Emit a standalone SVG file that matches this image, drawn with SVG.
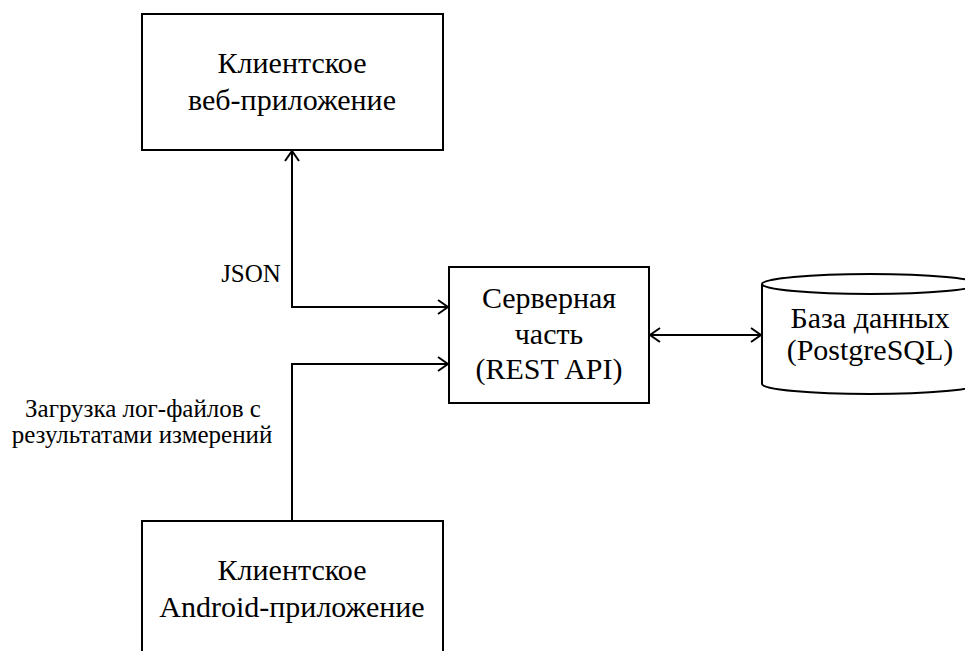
<svg xmlns="http://www.w3.org/2000/svg" width="965" height="651" viewBox="0 0 965 651">
<defs>
<style>
.box{fill:#fff;stroke:#000;stroke-width:2}
.t{font-family:'Liberation Serif',Tinos,'Times New Roman',Times,'DejaVu Serif',serif;font-size:30px;fill:#000;text-anchor:middle}
.l{font-family:'Liberation Serif',Tinos,'Times New Roman',Times,'DejaVu Serif',serif;font-size:25px;fill:#000;text-anchor:middle}
.c{fill:none;stroke:#000;stroke-width:2}
</style>
<marker id="ah" viewBox="0 0 12 16" refX="11" refY="8" markerWidth="12" markerHeight="16" markerUnits="userSpaceOnUse" orient="auto-start-reverse">
<path d="M1,1 L11,8 L1,15" fill="none" stroke="#000" stroke-width="2"/>
</marker>
</defs>
<rect width="965" height="651" fill="#fff"/>
<g id="connectors">
<path class="c" d="M292,151 V307 H448" marker-start="url(#ah)" marker-end="url(#ah)"/>
<path class="c" d="M292,521 V364 H448" marker-end="url(#ah)"/>
<path class="c" d="M650,335 H761" marker-start="url(#ah)" marker-end="url(#ah)"/>
<text class="l" x="251" y="282">JSON</text>
<text class="l" x="143" y="417">Загрузка лог-файлов с</text>
<text class="l" x="142" y="443">результатами измерений</text>
</g>
<g id="web">
<rect class="box" x="142" y="14" width="301" height="136"/>
<text class="t" x="292" y="73">Клиентское</text>
<text class="t" x="292" y="110">веб-приложение</text>
</g>
<g id="server">
<rect class="box" x="449" y="267" width="200" height="136"/>
<text class="t" x="549" y="308">Серверная</text>
<text class="t" x="549" y="344">часть</text>
<text class="t" x="549" y="379">(REST API)</text>
</g>
<g id="db">
<path class="box" d="M762,284 V384 A108,10 0 0 0 978,384 V284"/>
<ellipse class="box" cx="870" cy="284" rx="108" ry="10"/>
<text class="t" x="870" y="328">База данных</text>
<text class="t" x="870" y="360">(PostgreSQL)</text>
</g>
<g id="android">
<rect class="box" x="142" y="521" width="301" height="136"/>
<text class="t" x="292" y="580">Клиентское</text>
<text class="t" x="292" y="617">Android-приложение</text>
</g>
</svg>
